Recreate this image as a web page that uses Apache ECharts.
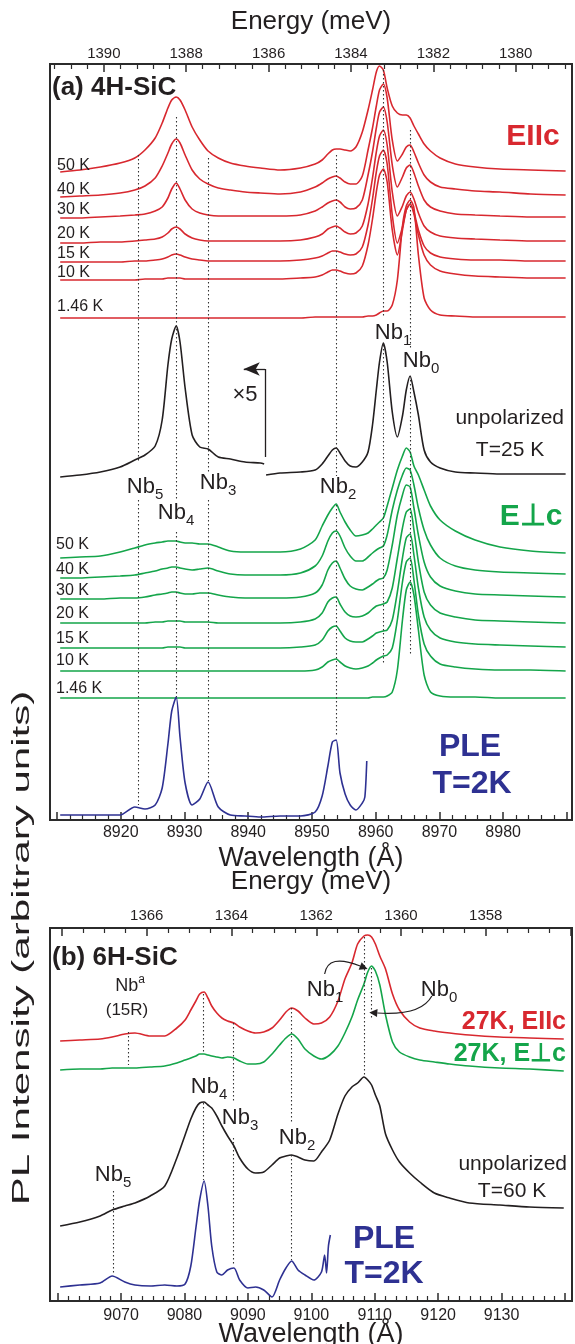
<!DOCTYPE html>
<html>
<head>
<meta charset="utf-8">
<title>Nb PL spectra 4H / 6H-SiC</title>
<script src="https://cdn.jsdelivr.net/npm/echarts@6.0.0/dist/echarts.min.js"></script>
<style>
  html, body { margin: 0; padding: 0; background: #fff; }
  #chart { width: 575px; height: 1344px; }
</style>
</head>
<body>
<div id="chart"></div>
<script>
// ---- panel (a) 4H-SiC : air wavelength grid (Å) and stacked spectra (arb. units)
const lamA = [8910.5, 8913.6, 8916.8, 8919.9, 8922.2, 8923.8, 8925.4, 8926.5, 8927.4, 8928.0,
  8928.7, 8929.3, 8930.1, 8931.2, 8932.4, 8933.7, 8935.3, 8937.2, 8939.5, 8941.9,
  8945.0, 8948.2, 8950.5, 8951.6, 8952.5, 8953.2, 8953.8, 8954.4, 8955.2, 8956.0,
  8956.9, 8957.9, 8958.8, 8959.5, 8960.1, 8960.6, 8961.2, 8961.8, 8962.6, 8963.4,
  8964.2, 8964.8, 8965.4, 8966.0, 8966.7, 8967.6, 8968.6, 8970.1, 8972.5, 8975.6,
  8979.5, 8984.3, 8989.8];

// E || c
const red50A = [648,650,653,657,662,670,682,697,712,720, 723,720,710,693,680,669,662,657,654,652,
  650,652,656,660,666,670,671,671,670,669, 673,688,710,730,748,754,750,732,714,707,
  705,705,702,694,686,676,669,662,656,653, 651,650,649];
const red40A = [623,624,625,627,630,634,642,654,667,676, 681,677,665,650,641,636,632,630,628,627,
  626,628,633,637,641,643,644,642,638,636, 636,644,670,692,714,730,736,722,680,659,
  666,673,675,668,657,645,638,633,631,629, 628,626,625];
const red30A = [602,602,603,604,605,606,609,613,622,631, 637,631,620,611,607,605,604,604,604,604,
  604,605,609,613,617,619,620,618,613,611, 612,620,645,668,692,708,713,698,655,633,
  643,652,655,647,634,620,613,609,606,605, 604,603,603];
const red20A = [577,577,578,578,579,580,581,583,587,591, 593,591,586,582,580,579,579,579,579,579,
  579,580,583,586,591,593,594,592,588,586, 587,594,616,642,668,684,690,675,628,604,
  614,624,628,621,607,594,588,584,582,581, 580,579,579];
const red15A = [558,558,558,558,559,559,560,561,563,565, 566,565,563,561,560,559,559,559,559,559,
  559,560,562,564,567,569,569,568,566,565, 566,573,595,621,648,664,670,656,605,577,
  593,610,616,608,590,574,567,563,561,560, 560,559,559];
const red10A = [540,540,540,540,540,541,541,541,542,542, 542,542,541,541,541,541,541,541,541,541,
  541,542,543,545,548,550,550,549,547,546, 547,554,575,601,628,645,651,638,590,565,
  590,610,616,606,585,565,555,549,546,544, 543,542,542];
const red146A = [502,502,502,502,502,502,502,502,502,502, 502,502,502,502,502,502,502,502,502,502,
  502,502,503,503,503,503,503,503,503,503, 503,503,504,504,505,507,509,509,515,540,
  594,614,620,612,565,522,510,505,504,503, 503,503,503];

// unpolarized T=25 K, left part x5
const lamBlackL = lamA.slice(0, 20).concat([8942.5]);
const blackL = [343,345,348,353,360,365,374,400,455,481, 494,478,432,385,373,371,363,361,358,357, 356];
const lamBlackR = [8942.8].concat(lamA.slice(20));
const blackR = [345, 347,348,350,356,364,370,372,367,359,354, 353,358,368,395,430,458,477,458,408,383,
  404,430,444,428,405,370,358,352,348,347, 346,346,346];

// E perp c
const green50A = [262,263,264,268,272,275,277,278,279,279, 279,278,277,277,276,276,273,269,268,268,
  268,271,280,294,305,312,316,308,298,290, 284,285,287,291,295,298,302,314,332,350,
  364,372,368,354,345,330,314,300,289,280, 273,269,267];
const green40A = [242,242,243,244,245,247,249,251,252,253, 253,252,251,250,251,252,249,246,245,245,
  245,247,254,264,279,287,289,284,272,264, 259,259,263,267,270,272,274,285,310,330,
  345,352,350,335,312,290,275,262,254,250, 248,247,246];
const green30A = [221,221,221,222,222,223,225,226,227,228, 228,227,226,226,227,227,225,223,222,222,
  222,223,227,235,250,257,259,252,241,234, 231,230,233,236,239,241,242,250,275,305,
  325,335,333,312,285,258,243,234,229,226, 225,224,223];
const green20A = [197,197,197,197,197,197,198,198,199,199, 199,199,198,198,198,198,197,197,197,197,
  197,198,201,207,218,222,223,216,208,204, 203,204,207,211,214,215,216,218,232,262,
  292,308,311,290,258,228,215,207,203,200, 199,198,197];
const green15A = [172,172,172,172,172,172,172,172,173,173, 173,173,172,172,172,172,172,172,172,172,
  172,173,175,180,189,193,194,189,182,179, 178,178,181,184,187,188,189,190,200,228,
  262,282,286,265,232,203,190,182,178,176, 175,174,173];
const green10A = [149,149,149,149,149,149,149,149,149,149, 149,149,149,149,149,149,149,149,149,149,
  149,149,150,153,158,160,161,158,154,152, 151,152,154,157,160,162,164,165,172,200,
  238,258,262,240,205,176,164,156,153,151, 150,150,149];
const green146A = [122,122,122,122,122,122,122,122,122,122, 122,122,122,122,122,122,122,122,122,122,
  122,122,122,122,122,122,122,122,122,122, 122,122,122,123,123,123,123,124,128,150,
  200,230,238,225,190,145,128,124,123,123, 122,122,122];

// PLE T=2K
const blueA = [5,5,5,5,13,11,15,32,76,109, 123,83,37,15,21,38,13,5,4,3,
  4,4,8,24,54,78,80,47,26,15, 10,17];
const blueAEndLam = [8958.3, 8958.6];
const blueAEndVal = [23, 59];

const tempsA = ['50 K', '40 K', '30 K', '20 K', '15 K', '10 K', '1.46 K'];

// dotted guides: Nb5 Nb4 Nb3 Nb2 Nb1 Nb0
const nbLamA = [8922.8, 8928.7, 8933.8, 8953.8, 8961.2, 8965.5];
const nbSpanA = [[[665, 359], [320, 15]], [[703, 320], [288, 123]], [[662, 346], [320, 39]],
  [[665, 344], [315, 83]], [[750, 502], [475, 155]], [[690, 470], [440, 165]]];

// ---- panel (b) 6H-SiC
const lamB = [9060.4, 9063.5, 9066.7, 9068.6, 9070.6, 9072.2, 9074.6, 9076.9, 9078.8, 9080.1,
  9081.0, 9081.8, 9082.4, 9083.1, 9083.7, 9084.3, 9085.1, 9085.9, 9086.8, 9087.8,
  9088.7, 9090.0, 9091.2, 9092.5, 9093.8, 9095.0, 9096.0, 9096.9, 9097.9, 9099.0,
  9100.4, 9101.6, 9102.9, 9104.2, 9105.3, 9106.4, 9107.3, 9108.3, 9108.9, 9109.5,
  9110.1, 9110.8, 9111.7, 9112.8, 9113.9, 9115.5, 9117.1, 9119.4, 9121.8, 9124.9,
  9129.7, 9134.4, 9139.8];
const redB = [260,261,262,264,267,268,265,265,273,281, 291,300,307,309,303,295,288,283,280,278,
  274,270,268,269,273,281,289,293,290,283, 277,278,284,300,322,338,357,365,366,364,
  357,345,332,307,291,279,273,270,268,266, 264,263,262];
const greenB = [231,232,232,233,233,233,234,235,238,241, 243,245,247,247,246,245,244,243,244,243,
  240,237,237,239,247,256,263,267,262,252, 245,242,246,255,268,284,301,317,329,335,
  330,316,286,259,249,244,241,239,237,235, 233,232,230];
const blackB = [75,79,85,91,95,98,105,115,143,166, 182,193,198,199,196,193,185,175,165,155,
  143,132,128,129,136,143,145,146,144,141, 140,149,161,187,205,214,218,224,221,216,
  206,195,167,151,139,128,119,108,103,98, 96,94,93];
const blueB = [14,16,18,25,19,16,15,16,15,17, 35,73,101,120,95,55,29,26,31,33,
  21,13,14,11,4,21,33,40,31,26, 21,29];
const blueBEndLam = [9102.1, 9102.4, 9102.7, 9103.0];
const blueBEndVal = [46, 28, 55, 66];

// Nb5 Nba Nb4 Nb3 Nb2 Nb1 Nb0
const nbLamB = [9068.7, 9071.2, 9083.0, 9087.7, 9096.9, 9108.4, 9109.4];
const nbSpanB = [[[110, 26]], [[269, 236]], [[307, 247], [198, 121]], [[278, 199], [163, 35]],
  [[293, 179], [146, 41]], [[364, 224]], [[333, 281]]];

// curved pointers from the Nb1 / Nb0 tags: start, control, end (data units)
const pointersB = [
  [[9102.1, 327], [9102.6, 348], [9107.7, 335]],
  [[9119.0, 305], [9117.3, 285], [9110.4, 288]]
];

const rangeA = [8908.9, 8990.8];
const rangeB = [9058.8, 9141.1];

const RED = '#d8282f', GREEN = '#14a54a', BLUE = '#2e3192', INK = '#231f20';
const FONT = "'Liberation Sans', Arial, sans-serif";
const NARROW = "'Liberation Sans Narrow', 'Liberation Sans', Arial, sans-serif";

// air wavelength (Å) -> photon energy (meV)
const meV = l => 12398.42 / (l * 1.000275) * 1000;

function zip(lam, vals) {
  return vals.map((v, i) => [lam[i], v]);
}

function curve(data, color, xi, yi) {
  return {
    type: 'line', xAxisIndex: xi, yAxisIndex: yi, data: data,
    symbol: 'none', smooth: 0.25, silent: true,
    lineStyle: { color: color, width: 1.6 }, z: 3
  };
}

function guideLines(lams, spans, xi, yi) {
  let data = [];
  lams.forEach((l, i) => {
    spans[i].forEach(s => data.push([{ coord: [l, s[0]] }, { coord: [l, s[1]] }]));
  });
  return {
    type: 'line', xAxisIndex: xi, yAxisIndex: yi, data: [], silent: true,
    markLine: {
      silent: true, symbol: ['none', 'none'], label: { show: false },
      emphasis: { disabled: true }, animation: false,
      lineStyle: { type: [1.5, 2.5], color: '#333', width: 1.1 },
      data: data
    }
  };
}

// labels only on round values, and not right at the frame edge
function edgeFormatter(step, lo, hi, gap) {
  return v => {
    if (Math.abs(v / step - Math.round(v / step)) > 1e-6) return '';
    if (v < lo + gap || v > hi - gap) return '';
    return String(Math.round(v));
  };
}

function waveAxis(grid, range, minor, margin) {
  return {
    type: 'value', gridIndex: grid, position: 'bottom', min: range[0], max: range[1], splitNumber: 8,
    axisLine: { show: false }, splitLine: { show: false },
    axisTick: { show: true, inside: true, length: 8, lineStyle: { color: '#2b2b2b', width: 1.5 } },
    minorTick: { show: true, splitNumber: minor, length: 5, lineStyle: { color: '#2b2b2b', width: 1.2 } },
    axisLabel: {
      margin: margin, fontSize: 16, color: INK, fontFamily: FONT, hideOverlap: false,
      formatter: edgeFormatter(10, range[0], range[1], 3)
    }
  };
}

function energyAxis(grid, range, minor, margin) {
  let lo = meV(range[1]), hi = meV(range[0]);
  return {
    type: 'value', gridIndex: grid, position: 'top', inverse: true,
    min: lo, max: hi, splitNumber: 6,
    axisLine: { show: false }, splitLine: { show: false },
    axisTick: { show: true, inside: true, length: 8, lineStyle: { color: '#2b2b2b', width: 1.5 } },
    minorTick: { show: true, splitNumber: minor, length: 5, lineStyle: { color: '#2b2b2b', width: 1.2 } },
    axisLabel: {
      margin: margin, fontSize: 15, color: INK, fontFamily: FONT, hideOverlap: false,
      formatter: edgeFormatter(2, lo, hi, 0.8)
    }
  };
}

function label(x, y, text, size, color, opt) {
  opt = opt || {};
  return {
    type: 'text', x: x, y: y, silent: true, z: 10,
    style: {
      text: text, fontSize: size, fontFamily: opt.family || FONT,
      fontWeight: opt.bold ? 'bold' : 'normal', fill: color || INK,
      align: opt.align || 'center', verticalAlign: 'middle'
    }
  };
}

// "Nb" with subscript index
function nb(x, y, idx, size) {
  let s = Math.round(size * 0.68);
  return {
    type: 'text', x: x, y: y, silent: true, z: 10,
    style: {
      text: '{m|Nb}{s|' + idx + '}', align: 'center', verticalAlign: 'middle', fill: INK,
      rich: {
        m: { fontSize: size, fontFamily: FONT, fill: INK, lineHeight: size + 8 },
        s: { fontSize: s, fontFamily: FONT, fill: INK, lineHeight: s, verticalAlign: 'bottom' }
      }
    }
  };
}

let series = [];
[red50A, red40A, red30A, red20A, red15A, red10A, red146A].forEach(v => series.push(curve(zip(lamA, v), RED, 0, 0)));
series.push(curve(zip(lamBlackL, blackL), INK, 0, 0));
series.push(curve(zip(lamBlackR, blackR), INK, 0, 0));
[green50A, green40A, green30A, green20A, green15A, green10A, green146A].forEach(v => series.push(curve(zip(lamA, v), GREEN, 0, 0)));
series.push(curve(zip(lamA, blueA).concat(zip(blueAEndLam, blueAEndVal)), BLUE, 0, 0));
series.push(guideLines(nbLamA, nbSpanA, 0, 0));

// x5 marker
series.push({
  type: 'line', xAxisIndex: 0, yAxisIndex: 0, data: [], silent: true,
  markLine: {
    silent: true, label: { show: false }, emphasis: { disabled: true }, animation: false,
    symbol: ['none', 'none'], symbolSize: [10, 16],
    lineStyle: { type: 'solid', color: INK, width: 1.3 },
    data: [
      [{ coord: [8942.65, 363] }, { coord: [8942.65, 451] }],
      [{ coord: [8942.65, 451] }, { coord: [8939.3, 451], symbol: 'arrow' }]
    ]
  }
});

series.push(curve(zip(lamB, redB), RED, 2, 1));
series.push(curve(zip(lamB, greenB), GREEN, 2, 1));
series.push(curve(zip(lamB, blackB), INK, 2, 1));
series.push(curve(zip(lamB, blueB).concat(zip(blueBEndLam, blueBEndVal)), BLUE, 2, 1));
series.push(guideLines(nbLamB, nbSpanB, 2, 1));

let graphic = [
  label(311, 22, 'Energy (meV)', 26),
  label(311, 859, 'Wavelength (Å)', 27),
  label(52, 88, '(a) 4H-SiC', 26, INK, { bold: true, align: 'left' }),
  label(533, 137, 'EIIc', 30, RED, { bold: true }),
  label(531, 517, 'E⊥c', 30, GREEN, { bold: true }),
  label(245, 395, '×5', 22),
  label(564, 418, 'unpolarized', 21, INK, { align: 'right' }),
  label(510, 450, 'T=25 K', 21),
  label(470, 747, 'PLE', 32, BLUE, { bold: true }),
  label(472, 784, 'T=2K', 32, BLUE, { bold: true }),
  nb(393, 333, 1, 22), nb(421, 361, 0, 22), nb(145, 487, 5, 22),
  nb(218, 483, 3, 22), nb(338, 487, 2, 22), nb(176, 513, 4, 22),

  label(311, 882, 'Energy (meV)', 26),
  label(311, 1335, 'Wavelength (Å)', 27),
  label(52, 958, '(b) 6H-SiC', 26, INK, { bold: true, align: 'left' }),
  {
    type: 'text', x: 130, y: 986, silent: true, z: 10,
    style: {
      text: '{m|Nb}{s|a}', align: 'center', verticalAlign: 'middle', fill: INK,
      rich: {
        m: { fontSize: 18, fontFamily: FONT, fill: INK, lineHeight: 24 },
        s: { fontSize: 12, fontFamily: FONT, fill: INK, lineHeight: 12, verticalAlign: 'top' }
      }
    }
  },
  label(127, 1010, '(15R)', 17),
  nb(325, 990, 1, 22), nb(439, 990, 0, 22),
  label(566, 1022, '27K, EIIc', 25, RED, { bold: true, align: 'right' }),
  label(566, 1054, '27K, E⊥c', 25, GREEN, { bold: true, align: 'right' }),
  nb(209, 1087, 4, 22), nb(240, 1118, 3, 22), nb(297, 1138, 2, 22), nb(113, 1175, 5, 22),
  label(567, 1164, 'unpolarized', 21, INK, { align: 'right' }),
  label(512, 1191, 'T=60 K', 21),
  label(384, 1239, 'PLE', 32, BLUE, { bold: true }),
  label(384, 1274, 'T=2K', 32, BLUE, { bold: true }),

  {
    type: 'text', x: 23, y: 948, rotation: Math.PI / 2, scaleX: 1.83, silent: true, z: 10,
    style: { text: 'PL Intensity (arbitrary units)', fontSize: 23, fontFamily: FONT, fill: INK, align: 'center', verticalAlign: 'middle' }
  }
];

// temperature tags next to the stacked traces
const tempYRed = [166, 190, 210, 234, 254, 273, 307];
const tempYGreen = [545, 570, 591, 614, 639, 661, 689];
tempsA.forEach((t, i) => {
  graphic.push(label(57, tempYRed[i], t, 16, INK, { align: 'left', family: NARROW }));
  graphic.push(label(56, tempYGreen[i], t, 16, INK, { align: 'left', family: NARROW }));
});

const chart = echarts.init(document.getElementById('chart'), null, { renderer: 'canvas' });
chart.setOption({
  animation: false,
  backgroundColor: '#fff',
  grid: [
    { left: 50, right: 3, top: 64, height: 756, show: true, borderColor: '#2b2b2b', borderWidth: 2,
      containLabel: false, outerBoundsMode: 'none' },
    { left: 50, right: 3, top: 928, height: 373, show: true, borderColor: '#2b2b2b', borderWidth: 2,
      containLabel: false, outerBoundsMode: 'none' }
  ],
  xAxis: [
    waveAxis(0, rangeA, 5, 5),
    energyAxis(0, rangeA, 5, 3),
    waveAxis(1, rangeB, 6, 7),
    energyAxis(1, rangeB, 4, 5)
  ],
  yAxis: [
    { type: 'value', gridIndex: 0, min: 0, max: 756, show: false },
    { type: 'value', gridIndex: 1, min: 0, max: 373, show: false }
  ]
  ,
  series: series
});

// pointers are placed through the panel (b) axes once the layout exists
const toPx = p => chart.convertToPixel({ xAxisIndex: 2, yAxisIndex: 1 }, p);
pointersB.forEach(pt => {
  const a = toPx(pt[0]), c = toPx(pt[1]), b = toPx(pt[2]);
  const dx = b[0] - c[0], dy = b[1] - c[1], len = Math.hypot(dx, dy);
  const ux = dx / len, uy = dy / len;
  const tip = [b[0] + ux * 8, b[1] + uy * 8];
  graphic.push({
    type: 'bezierCurve', silent: true, z: 9,
    shape: { x1: a[0], y1: a[1], cpx1: c[0], cpy1: c[1], x2: b[0], y2: b[1] },
    style: { stroke: INK, lineWidth: 1.2, fill: null }
  });
  graphic.push({
    type: 'polygon', silent: true, z: 9,
    shape: { points: [tip, [b[0] - uy * 4, b[1] + ux * 4], [b[0] + uy * 4, b[1] - ux * 4]] },
    style: { fill: INK }
  });
});

chart.setOption({ graphic: graphic });
</script>
</body>
</html>
